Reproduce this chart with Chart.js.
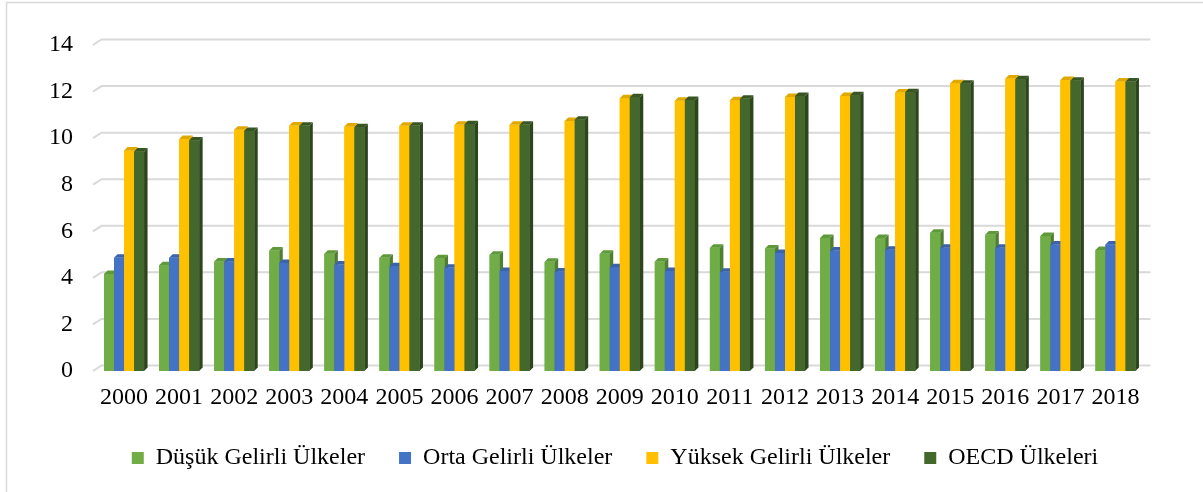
<!DOCTYPE html>
<html>
<head>
<meta charset="utf-8">
<script src="https://cdn.jsdelivr.net/npm/chart.js@4"></script>
<style>
  html, body { margin: 0; padding: 0; background: #fff; }
  #wrap { width: 1203px; height: 492px; }
</style>
</head>
<body>
<div id="wrap"><canvas id="chart" width="1203" height="492"></canvas></div>
<script>
// values
const years = ['2000', '2001', '2002', '2003', '2004', '2005', '2006', '2007', '2008', '2009',
  '2010', '2011', '2012', '2013', '2014', '2015', '2016', '2017', '2018'];
const dusuk = [4.17, 4.54, 4.70, 5.17, 5.04, 4.86, 4.84, 4.99, 4.69, 5.03,
  4.70, 5.29, 5.26, 5.71, 5.71, 5.94, 5.86, 5.80, 5.20];
const orta = [4.86, 4.86, 4.70, 4.64, 4.57, 4.50, 4.43, 4.29, 4.27, 4.46,
  4.29, 4.26, 5.07, 5.17, 5.21, 5.29, 5.29, 5.43, 5.43];
const yuksek = [9.47, 9.96, 10.36, 10.54, 10.50, 10.53, 10.57, 10.57, 10.74, 11.71,
  11.61, 11.63, 11.77, 11.81, 11.96, 12.36, 12.56, 12.50, 12.43];
const oecd = [9.43, 9.90, 10.31, 10.53, 10.47, 10.53, 10.60, 10.57, 10.79, 11.76,
  11.64, 11.69, 11.81, 11.84, 11.97, 12.34, 12.53, 12.47, 12.43];
const yTicks = [0, 2, 4, 6, 8, 10, 12, 14];

const font = { family: '"Liberation Serif", "Times New Roman", serif', size: 24 };
const depth = 3.5;

// page frame + white background
const frame = {
  id: 'frame',
  beforeDraw(chart) {
    const ctx = chart.ctx;
    ctx.save();
    ctx.fillStyle = '#fff';
    ctx.fillRect(0, 0, chart.width, chart.height);
    ctx.strokeStyle = '#d9d9d9';
    ctx.lineWidth = 1.5;
    ctx.beginPath();
    ctx.moveTo(6.5, chart.height);
    ctx.lineTo(6.5, 2.5);
    ctx.lineTo(chart.width, 2.5);
    ctx.stroke();
    ctx.restore();
  },
  // nudge the legend row a little right, like the original
  afterLayout(chart) {
    chart.legend.left += 19;
    chart.legend.right += 19;
  }
};

// gridlines on the back wall, with the little floor diagonal on the left
const backGrid = {
  id: 'backGrid',
  beforeDatasetsDraw(chart) {
    const { ctx, chartArea, scales } = chart;
    ctx.save();
    ctx.strokeStyle = '#d9d9d9';
    ctx.lineWidth = 2;
    yTicks.forEach(v => {
      const py = scales.y.getPixelForValue(v);
      ctx.beginPath();
      ctx.moveTo(chartArea.left - 3.5, py);
      ctx.lineTo(chartArea.left + 5, py - 5.5);
      ctx.lineTo(chartArea.right + 7.5, py - 5.5);
      ctx.stroke();
    });
    ctx.restore();
  }
};

// redraw the bars left to right with a side and a top face
const bars3d = {
  id: 'bars3d',
  afterDatasetsDraw(chart) {
    const ctx = chart.ctx;
    ctx.save();
    chart.data.datasets.forEach((ds, i) => {
      chart.getDatasetMeta(i).data.forEach(bar => {
        const { x, y, base, width } = bar.getProps(['x', 'y', 'base', 'width'], true);
        const l = x - width / 2, r = x + width / 2;
        ctx.fillStyle = ds.backgroundColor;
        ctx.fillRect(l, y, width, base - y);
        ctx.fillStyle = ds.sideColor;
        ctx.beginPath();
        ctx.moveTo(r, y);
        ctx.lineTo(r + depth, y - depth);
        ctx.lineTo(r + depth, base - depth);
        ctx.lineTo(r, base);
        ctx.closePath();
        ctx.fill();
        ctx.fillStyle = ds.topColor;
        ctx.beginPath();
        ctx.moveTo(l, y);
        ctx.lineTo(l + depth, y - depth);
        ctx.lineTo(r + depth, y - depth);
        ctx.lineTo(r, y);
        ctx.closePath();
        ctx.fill();
      });
    });
    ctx.restore();
  }
};

new Chart(document.getElementById('chart'), {
  type: 'bar',
  data: {
    labels: years,
    datasets: [
      { label: 'Düşük Gelirli Ülkeler', data: dusuk, backgroundColor: '#70ad47', sideColor: '#4f7d32', topColor: '#5e9a3a', borderWidth: 0 },
      { label: 'Orta Gelirli Ülkeler', data: orta, backgroundColor: '#4472c4', sideColor: '#2e5599', topColor: '#3a62ad', borderWidth: 0 },
      { label: 'Yüksek Gelirli Ülkeler', data: yuksek, backgroundColor: '#ffc000', sideColor: '#c99700', topColor: '#e0a800', borderWidth: 0 },
      { label: 'OECD Ülkeleri', data: oecd, backgroundColor: '#44682c', sideColor: '#2c451c', topColor: '#375623', borderWidth: 0 }
    ]
  },
  options: {
    responsive: false,
    devicePixelRatio: 1,
    animation: false,
    categoryPercentage: 0.727,
    barPercentage: 1,
    layout: { autoPadding: false, padding: { top: 45, bottom: 12, left: 49, right: 60 } },
    scales: {
      x: {
        grid: { display: false, drawTicks: false },
        border: { display: false },
        ticks: { font, color: '#000', padding: 12.5, maxRotation: 0, autoSkip: false },
        afterFit(scale) { scale.height = 41; }
      },
      y: {
        min: 0,
        max: 14,
        grid: { display: false, drawTicks: false },
        border: { display: false },
        ticks: { stepSize: 2, font, color: '#000', padding: 23.5 },
        afterFit(scale) { scale.width = 47.5; }
      }
    },
    plugins: {
      tooltip: { enabled: false },
      legend: {
        position: 'bottom',
        labels: { font, color: '#000', boxWidth: 12, boxHeight: 12, padding: 34 }
      }
    }
  },
  plugins: [frame, backGrid, bars3d]
});
</script>
</body>
</html>
